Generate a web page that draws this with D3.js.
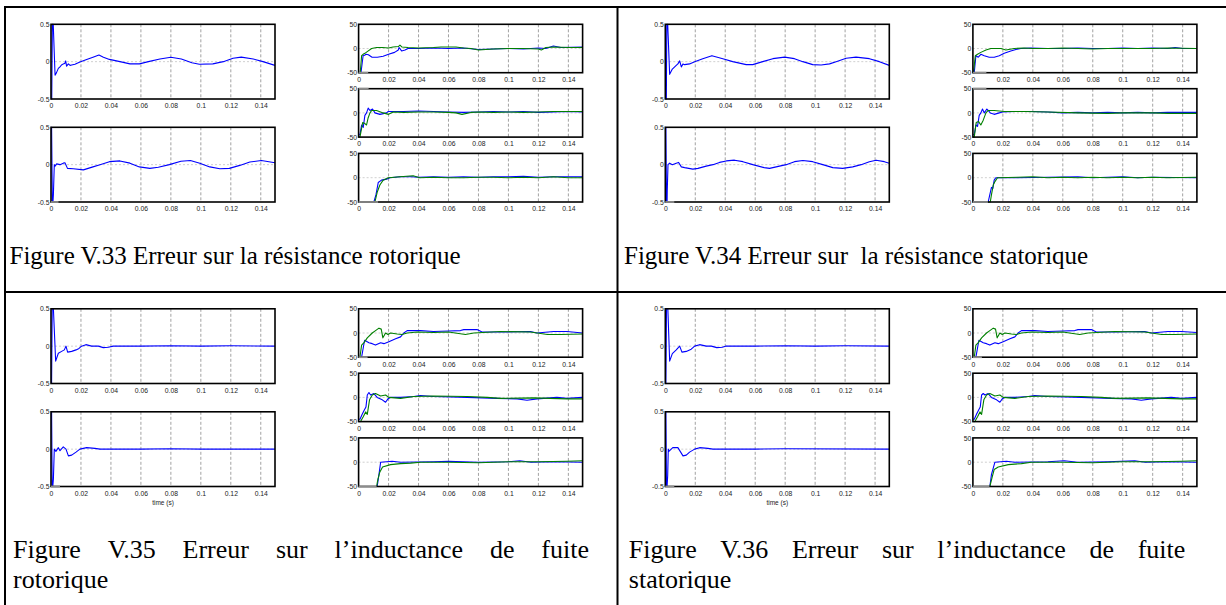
<!DOCTYPE html>
<html>
<head>
<meta charset="utf-8">
<script src="https://cdn.jsdelivr.net/npm/d3@7"></script>
<style>
  body { margin: 0; background: #fff; }
  svg { display: block; }
</style>
</head>
<body>
<script>
// tick values shared by all panels
const xTicks = [0, 0.02, 0.04, 0.06, 0.08, 0.1, 0.12, 0.14];
const leftYTicks = [-0.5, 0, 0.5];
const rightYTicks = [-50, 0, 50];

// ---- Figure V.33 (rotor resistance) ----
const v33L1 = [[0,-0.5],[0.0005,-0.5],[0.0009,0.5],[0.0015,0.5],[0.0027,-0.18],[0.0036,-0.15],[0.0049,-0.09],[0.006,-0.07],[0.007,-0.045],[0.0082,-0.03],[0.0093,-0.02],[0.0098,0.01],[0.0104,-0.06],[0.0116,-0.03],[0.0127,-0.05],[0.0138,-0.045],[0.016,-0.035],[0.0193,-0.005],[0.0238,0.03],[0.028,0.06],[0.032,0.09],[0.035,0.06],[0.039,0.03],[0.046,0],[0.0527,-0.03],[0.059,-0.03],[0.065,0],[0.0727,0.035],[0.08,0.06],[0.087,0.035],[0.094,-0.015],[0.099,-0.035],[0.108,-0.03],[0.115,0],[0.1215,0.045],[0.127,0.06],[0.135,0.035],[0.1415,0],[0.1495,-0.05]];
const v33L2 = [[0,0.5],[0.0004,0.5],[0.0009,-0.5],[0.0013,-0.5],[0.0016,-0.4],[0.0022,0],[0.0027,-0.02],[0.0038,0.01],[0.006,0],[0.0082,0.02],[0.0093,0.025],[0.011,-0.05],[0.0149,-0.055],[0.0216,-0.07],[0.028,-0.03],[0.0327,0],[0.039,0.04],[0.046,0.05],[0.0527,0.02],[0.059,-0.03],[0.066,-0.05],[0.0716,-0.035],[0.079,0],[0.0867,0.045],[0.093,0.055],[0.0993,0.02],[0.106,-0.03],[0.1127,-0.055],[0.119,-0.05],[0.126,-0.01],[0.1327,0.035],[0.1404,0.055],[0.1495,0.025]];
const v33R1Blue = [[0,-50],[0.0016,-50],[0.003,-15],[0.004,-14],[0.005,-12],[0.0065,-13],[0.009,-18],[0.0125,-18],[0.0164,-16],[0.02,-12],[0.024,-8],[0.0265,-3],[0.027,2],[0.0287,-5],[0.031,-3],[0.033,0],[0.04,0],[0.05,1],[0.06,0],[0.07,1],[0.08,-2],[0.09,-1],[0.1,0],[0.11,-1],[0.12,1],[0.125,0],[0.13,5],[0.135,2],[0.1495,3]];
const v33R1Green = [[0,-50],[0.0011,-50],[0.002,-15],[0.003,-12],[0.0042,-10],[0.006,-6],[0.0087,0],[0.012,2],[0.016,2],[0.02,1],[0.023,3],[0.0265,4],[0.0276,7],[0.029,3],[0.033,2],[0.04,1],[0.05,2],[0.055,3],[0.06,3],[0.065,3],[0.07,1],[0.075,0],[0.08,-3],[0.085,-2],[0.09,-1],[0.1,0],[0.11,0],[0.12,-1],[0.122,-3],[0.125,2],[0.13,3],[0.14,2],[0.1495,2]];
const v33R2Blue = [[0,-45],[0.0009,-45],[0.002,-25],[0.0031,-30],[0.0042,-5],[0.0053,0],[0.0064,10],[0.0076,5],[0.0093,8],[0.0109,0],[0.0142,-3],[0.0187,0],[0.0198,3],[0.03,3],[0.04,4],[0.05,3],[0.06,2],[0.07,1],[0.08,2],[0.09,3],[0.1,2],[0.11,3],[0.12,1],[0.13,2],[0.14,3],[0.1495,2]];
const v33R2Green = [[0,-50],[0.0009,-50],[0.0027,-20],[0.0042,-22],[0.0053,-25],[0.0064,-10],[0.0076,0],[0.0087,5],[0.012,5],[0.0164,0],[0.02,-3],[0.0231,2],[0.03,1],[0.04,2],[0.05,2],[0.06,1],[0.065,0],[0.069,-3],[0.075,1],[0.08,2],[0.09,1],[0.1,2],[0.11,1],[0.12,2],[0.13,3],[0.14,3],[0.1495,3]];
const v33R3Blue = [[0,-50],[0.0102,-50],[0.0116,-35],[0.0131,-10],[0.0153,-5],[0.0187,-3],[0.0209,0],[0.0276,2],[0.035,2],[0.04,1],[0.05,2],[0.06,1],[0.07,2],[0.08,1],[0.09,2],[0.1,2],[0.11,3],[0.12,1],[0.13,2],[0.1495,2]];
const v33R3Green = [[0,-50],[0.0109,-50],[0.0124,-30],[0.0142,-15],[0.0164,-5],[0.0198,0],[0.0276,2],[0.0364,4],[0.0409,0],[0.05,1],[0.06,0],[0.07,0],[0.08,1],[0.09,1],[0.1,0],[0.11,1],[0.12,0],[0.13,2],[0.14,0],[0.1495,0]];
// saturated (off-scale) stretch shown in grey on the frame: [end time, level] per panel L1, L2, R1, R2, R3
const v33Sat = [null, [0.005,-0.5], [0.0064,-50], [0.0067,50], [0.013,-50]];

// ---- Figure V.34 (stator resistance) ----
const v34L1 = [[0,-0.5],[0.0007,-0.5],[0.001,0.5],[0.0016,0.5],[0.0029,-0.17],[0.0047,-0.1],[0.0073,-0.05],[0.0084,-0.03],[0.0096,0.01],[0.0107,-0.07],[0.0118,-0.03],[0.0129,-0.04],[0.0162,-0.03],[0.0196,0],[0.025,0.04],[0.0311,0.08],[0.0384,0.04],[0.045,0],[0.054,-0.04],[0.0584,-0.04],[0.065,0],[0.0718,0.04],[0.0796,0.06],[0.0862,0.04],[0.0918,0],[0.0984,-0.04],[0.104,-0.045],[0.1096,-0.03],[0.114,0],[0.1207,0.045],[0.1273,0.06],[0.1362,0.04],[0.1429,0],[0.1495,-0.05]];
const v34L2 = [[0,0.5],[0.0004,0.5],[0.0008,-0.5],[0.0012,-0.5],[0.0013,-0.35],[0.0018,0],[0.0029,0.02],[0.0047,0],[0.0073,0.02],[0.0089,0.03],[0.0107,-0.03],[0.0129,-0.04],[0.0184,-0.06],[0.0218,-0.05],[0.0273,-0.02],[0.0318,0],[0.0362,0.03],[0.0407,0.05],[0.0462,0.06],[0.0518,0.04],[0.0584,0],[0.066,-0.04],[0.0696,-0.05],[0.0762,-0.02],[0.0807,0],[0.0862,0.04],[0.0918,0.055],[0.0984,0.04],[0.1051,0],[0.1118,-0.04],[0.1184,-0.05],[0.1251,-0.03],[0.1307,0],[0.1362,0.04],[0.1407,0.06],[0.1462,0.04],[0.1495,0.02]];
const v34R1Blue = [[0,-50],[0.0009,-50],[0.002,-15],[0.0036,-18],[0.0053,-12],[0.0076,-15],[0.0109,-18],[0.0142,-18],[0.0176,-15],[0.0209,-10],[0.0253,-5],[0.0287,-2],[0.032,0],[0.0387,1],[0.05,0],[0.06,0],[0.07,1],[0.08,0],[0.09,0],[0.1,1],[0.11,0],[0.12,1],[0.13,0],[0.135,2],[0.14,0],[0.1495,0]];
const v34R1Green = [[0,-50],[0.0004,-50],[0.0016,-15],[0.0031,-12],[0.0053,-8],[0.0087,-3],[0.012,0],[0.0187,0],[0.022,-3],[0.0276,0],[0.0342,1],[0.04,0],[0.05,0],[0.06,1],[0.07,0],[0.08,-1],[0.09,0],[0.1,0],[0.11,0],[0.12,0],[0.13,1],[0.1495,0]];
const v34R2Blue = [[0,-45],[0.0009,-45],[0.002,-25],[0.0031,-28],[0.0042,-5],[0.0053,0],[0.0064,8],[0.0076,0],[0.0093,8],[0.0102,5],[0.0116,0],[0.0142,-3],[0.0176,0],[0.0198,2],[0.0276,3],[0.0387,3],[0.05,2],[0.06,0],[0.07,1],[0.08,0],[0.09,1],[0.1,0],[0.11,1],[0.12,0],[0.13,1],[0.1495,1]];
const v34R2Green = [[0,-50],[0.0009,-50],[0.0022,-20],[0.0038,-18],[0.0053,-25],[0.0069,-15],[0.0087,0],[0.0102,5],[0.0142,5],[0.0209,3],[0.0342,3],[0.05,2],[0.07,0],[0.09,-1],[0.1,0],[0.11,0],[0.12,0],[0.13,-1],[0.1495,-1]];
const v34R3Blue = [[0,-50],[0.0102,-50],[0.0113,-35],[0.0124,-20],[0.0133,-22],[0.0142,-5],[0.0153,0],[0.03,0],[0.05,1],[0.07,2],[0.08,0],[0.1,2],[0.11,0],[0.12,1],[0.1495,0]];
const v34R3Green = [[0,-50],[0.0116,-50],[0.0124,-35],[0.0136,-15],[0.0147,-8],[0.0164,0],[0.03,1],[0.04,2],[0.05,0],[0.06,1],[0.07,0],[0.08,1],[0.09,0],[0.1,1],[0.11,0],[0.12,1],[0.13,0],[0.1495,1]];
const v34Sat = [null, [0.006,-0.5], [0.009,-50], [0.009,50], [0.01,-50]];

// ---- Figure V.35 (rotor leakage inductance) ----
const v35L1 = [[0,-0.5],[0.0004,-0.5],[0.0008,0.5],[0.0016,0.5],[0.0031,-0.2],[0.0049,-0.095],[0.0071,-0.07],[0.0089,-0.05],[0.01,0],[0.0111,-0.08],[0.0138,-0.07],[0.0167,-0.05],[0.0187,-0.03],[0.0204,0],[0.0233,0.02],[0.0271,0],[0.0316,0],[0.0349,-0.02],[0.0382,-0.015],[0.0416,0],[0.06,0],[0.08,0.005],[0.1,0],[0.12,0.005],[0.1495,0]];
const v35L2 = [[0,0.5],[0.0004,0.5],[0.0008,-0.5],[0.0012,-0.5],[0.0016,-0.4],[0.0022,0],[0.0033,-0.03],[0.0049,0.02],[0.006,-0.02],[0.0082,0.03],[0.01,0],[0.0116,-0.09],[0.0138,-0.08],[0.0167,-0.04],[0.0193,0],[0.0238,0.02],[0.0293,0.01],[0.0327,0],[0.06,0],[0.08,0.005],[0.1,0],[0.1495,0]];
const v35R1Blue = [[0,-50],[0.002,-50],[0.004,-15],[0.0069,-20],[0.0091,-22],[0.0113,-25],[0.0147,-20],[0.0169,-22],[0.0202,-18],[0.0247,-12],[0.028,-8],[0.0302,0],[0.0324,5],[0.0413,5],[0.05,3],[0.06,4],[0.068,5],[0.0702,7],[0.079,7],[0.0824,2],[0.095,2],[0.1147,3],[0.119,0],[0.1302,3],[0.1391,3],[0.1495,0]];
const v35R1Green = [[0,-50],[0.0009,-50],[0.002,-25],[0.0036,-20],[0.0058,-10],[0.0091,0],[0.0113,5],[0.0136,10],[0.0151,8],[0.0162,-10],[0.018,0],[0.0196,-3],[0.0213,0],[0.0258,-2],[0.029,-3],[0.0324,0],[0.0391,2],[0.05,1],[0.06,2],[0.0713,-3],[0.0769,0],[0.0947,3],[0.1147,2],[0.126,-3],[0.1347,-3],[0.1495,-2]];
const v35R2Blue = [[0,-45],[0.0009,-45],[0.0024,-35],[0.004,-25],[0.0049,-20],[0.0058,5],[0.0069,10],[0.008,5],[0.0102,8],[0.0124,0],[0.0158,-5],[0.018,-10],[0.0196,-3],[0.0213,0],[0.028,0],[0.0369,2],[0.0413,4],[0.05,2],[0.0724,0],[0.0924,-2],[0.1058,-3],[0.1124,-6],[0.1191,-3],[0.1324,0],[0.1391,-2],[0.1495,0]];
const v35R2Green = [[0,-50],[0.0013,-50],[0.0031,-40],[0.0047,-30],[0.0058,-35],[0.0073,-5],[0.0091,5],[0.0113,8],[0.0147,3],[0.018,5],[0.0202,0],[0.028,-2],[0.0369,2],[0.05,3],[0.0724,2],[0.0858,0],[0.0947,-2],[0.1169,-1],[0.1391,-3],[0.1495,-3]];
const v35R3Blue = [[0,-50],[0.0124,-50],[0.0136,-25],[0.0147,0],[0.0224,2],[0.028,0],[0.05,1],[0.06,2],[0.08,0],[0.1,1],[0.1076,3],[0.115,0],[0.13,1],[0.1495,0]];
const v35R3Green = [[0,-50],[0.012,-50],[0.0129,-35],[0.0142,-20],[0.016,-10],[0.0213,-5],[0.028,-3],[0.0347,-2],[0.0413,0],[0.06,0],[0.08,-1],[0.1,1],[0.12,1],[0.1391,2],[0.1495,3]];
const v35Sat = [null, [0.006,-0.5], [0.006,-50], null, [0.012,-50]];

// ---- Figure V.36 (stator leakage inductance) ----
const v36L1 = [[0,-0.5],[0.0004,-0.5],[0.0008,0.5],[0.0017,0.5],[0.0029,-0.2],[0.0047,-0.1],[0.0073,-0.05],[0.0096,0],[0.0111,-0.08],[0.014,-0.07],[0.0173,-0.04],[0.0196,0],[0.0229,0.02],[0.0273,0],[0.0307,0],[0.0344,-0.02],[0.038,-0.015],[0.0402,0],[0.06,0],[0.08,0.005],[0.1,0],[0.12,0.005],[0.1495,0]];
const v36L2 = [[0,0.5],[0.0004,0.5],[0.0008,-0.5],[0.0012,-0.5],[0.0016,-0.35],[0.002,0],[0.0024,-0.03],[0.005,0.02],[0.0084,0.02],[0.0118,-0.09],[0.014,-0.08],[0.0162,-0.04],[0.0196,0],[0.0229,0.02],[0.0284,0.01],[0.0318,0],[0.06,0],[0.08,0.005],[0.1495,0]];
const v36R1Blue = [[0,-50],[0.002,-50],[0.004,-15],[0.0069,-20],[0.0091,-22],[0.0113,-25],[0.0147,-20],[0.0169,-22],[0.0202,-18],[0.0247,-12],[0.028,-8],[0.0302,0],[0.0324,5],[0.0413,5],[0.05,3],[0.06,4],[0.068,5],[0.0702,7],[0.079,7],[0.0824,2],[0.095,2],[0.1147,3],[0.119,0],[0.1302,3],[0.1391,3],[0.1495,1]];
const v36R1Green = [[0,-50],[0.0009,-50],[0.002,-25],[0.0036,-20],[0.0058,-10],[0.0091,0],[0.0113,5],[0.0136,10],[0.0151,8],[0.0162,-10],[0.018,0],[0.0196,-3],[0.0213,0],[0.0258,-2],[0.029,-3],[0.0324,0],[0.0391,2],[0.05,1],[0.06,2],[0.0713,-3],[0.0769,0],[0.0947,3],[0.1147,2],[0.126,-3],[0.1347,-3],[0.1495,-2]];
const v36R2Blue = [[0,-45],[0.0009,-45],[0.0024,-35],[0.004,-25],[0.0049,-20],[0.0058,5],[0.0069,8],[0.008,5],[0.0102,8],[0.0124,0],[0.0158,-5],[0.018,-10],[0.0196,-3],[0.0213,0],[0.028,0],[0.0369,2],[0.0413,4],[0.05,2],[0.0724,0],[0.0924,-2],[0.1058,-3],[0.1124,-6],[0.1191,-3],[0.1324,0],[0.1391,-2],[0.1495,0]];
const v36R2Green = [[0,-50],[0.0013,-50],[0.0031,-40],[0.0047,-30],[0.0058,-35],[0.0073,-5],[0.0091,5],[0.0113,8],[0.0147,3],[0.018,5],[0.0202,0],[0.028,-2],[0.0369,2],[0.05,3],[0.0724,2],[0.0858,0],[0.0947,-2],[0.1169,-1],[0.1391,-3],[0.1495,-3]];
const v36R3Blue = [[0,-50],[0.0113,-50],[0.0124,-25],[0.0147,0],[0.0224,2],[0.028,0],[0.05,1],[0.061,3],[0.07,0],[0.09,1],[0.108,3],[0.115,0],[0.13,1],[0.1495,0]];
const v36R3Green = [[0,-50],[0.0113,-50],[0.0129,-30],[0.0142,-15],[0.0169,-10],[0.0236,-5],[0.0324,-3],[0.039,0],[0.06,0],[0.08,-1],[0.1,1],[0.12,1],[0.1391,2],[0.1495,3]];
const v36Sat = [null, [0.006,-0.5], [0.006,-50], null, [0.011,-50]];

// captions, one list of lines per cell (a 2-line caption is justified on its first line)
const captions = [
    ["Figure V.33 Erreur sur la résistance rotorique"],
    ["Figure V.34 Erreur sur  la résistance statorique"],
    ["Figure V.35 Erreur sur l\u2019inductance de fuite", "rotorique"],
    ["Figure V.36 Erreur sur l\u2019inductance de fuite", "statorique"]
];

const cellData = [
    { left: [v33L1, v33L2], right: [[v33R1Blue, v33R1Green], [v33R2Blue, v33R2Green], [v33R3Blue, v33R3Green]], sat: v33Sat },
    { left: [v34L1, v34L2], right: [[v34R1Blue, v34R1Green], [v34R2Blue, v34R2Green], [v34R3Blue, v34R3Green]], sat: v34Sat },
    { left: [v35L1, v35L2], right: [[v35R1Blue, v35R1Green], [v35R2Blue, v35R2Green], [v35R3Blue, v35R3Green]], sat: v35Sat, timeLabel: true },
    { left: [v36L1, v36L2], right: [[v36R1Blue, v36R1Green], [v36R2Blue, v36R2Green], [v36R3Blue, v36R3Green]], sat: v36Sat, timeLabel: true }
];

// layout
const width = 1226, height = 605;
const xMax = 0.1495;
const seriesColors = ["#0000ff", "#008000"];
const cellOrigins = [[0, 0], [614.3, 0], [0, 284.5], [614.3, 284.5]];
const leftBoxes  = [{ x: 51, y: 24.3, w: 224, h: 74.7 }, { x: 51, y: 127.3, w: 224, h: 74.7 }];
const rightBoxes = [{ x: 358.6, y: 24.3, w: 224, h: 48.4 }, { x: 358.6, y: 88.7, w: 224, h: 48.4 },
                    { x: 358.6, y: 153.4, w: 224, h: 48.6 }];
// caption placement per cell: font size, left x, right x (justified line), first baseline, line pitch
const captionBoxes = [
    { size: 25, x0: 9.5, x1: 598, y: 264, pitch: 30 },
    { size: 25, x0: 9.7, x1: 598, y: 264, pitch: 30 },
    { size: 26, x0: 13, x1: 589, y: 273.5, pitch: 29.5 },
    { size: 26, x0: 14.5, x1: 571, y: 273.5, pitch: 29.5 }
];

const svg = d3.select("body").append("svg")
    .attr("width", width)
    .attr("height", height);

let clipId = 0;

// one MATLAB-like axes panel
function drawPanel(g, box, yTicks, series, sat, withTime) {
    const x = d3.scaleLinear().domain([0, xMax]).range([box.x, box.x + box.w]);
    const y = d3.scaleLinear().domain([yTicks[0], yTicks[2]]).range([box.y + box.h, box.y]);

    // grid
    g.append("g").selectAll("line")
        .data(xTicks.slice(1))
        .join("line")
        .attr("x1", d => x(d)).attr("x2", d => x(d))
        .attr("y1", box.y).attr("y2", box.y + box.h)
        .attr("stroke", "#8a8a8a")
        .attr("stroke-width", 0.8)
        .attr("stroke-dasharray", "3,2");
    g.append("line")
        .attr("x1", box.x).attr("x2", box.x + box.w)
        .attr("y1", y(0)).attr("y2", y(0))
        .attr("stroke", "#c4c4c4")
        .attr("stroke-width", 0.8)
        .attr("stroke-dasharray", "2,2");

    // curves, clipped to the box
    const id = "clip" + (clipId++);
    g.append("clipPath").attr("id", id)
        .append("rect")
        .attr("x", box.x).attr("y", box.y - 1)
        .attr("width", box.w).attr("height", box.h + 2);
    const line = d3.line().x(d => x(d[0])).y(d => y(d[1]));
    const curves = g.append("g").attr("clip-path", "url(#" + id + ")");
    series.forEach((s, i) => {
        curves.append("path")
            .attr("d", line(s))
            .attr("fill", "none")
            .attr("stroke", seriesColors[i])
            .attr("stroke-width", 1.1)
            .attr("stroke-linejoin", "round");
    });

    // frame
    g.append("rect")
        .attr("x", box.x).attr("y", box.y)
        .attr("width", box.w).attr("height", box.h)
        .attr("fill", "none")
        .attr("stroke", "#000")
        .attr("stroke-width", 1.6);

    // off-scale stretch drawn on the frame
    if (sat) {
        g.append("line")
            .attr("x1", x(0)).attr("x2", x(sat[0]))
            .attr("y1", y(sat[1])).attr("y2", y(sat[1]))
            .attr("stroke", "#8c8c8c")
            .attr("stroke-width", 1.8);
    }

    // tick labels
    const xAxis = g.append("g")
        .attr("transform", `translate(0,${box.y + box.h})`)
        .call(d3.axisBottom(x).tickValues(xTicks).tickSize(0).tickPadding(4.5).tickFormat(d => String(d)));
    const yAxis = g.append("g")
        .attr("transform", `translate(${box.x},0)`)
        .call(d3.axisLeft(y).tickValues(yTicks).tickSize(0).tickPadding(1.5).tickFormat(d => String(d)));
    [xAxis, yAxis].forEach(a => {
        a.select(".domain").remove();
        a.selectAll("text")
            .attr("fill", "#222")
            .style("font-family", "'Liberation Sans', Arial, sans-serif")
            .style("font-size", "6.8px");
    });
    yAxis.lower();

    if (withTime) {
        g.append("text")
            .attr("x", box.x + box.w / 2)
            .attr("y", box.y + box.h + 18)
            .attr("text-anchor", "middle")
            .attr("fill", "#222")
            .style("font-family", "'Liberation Sans', Arial, sans-serif")
            .style("font-size", "6.5px")
            .text("time (s)");
    }
}

// caption text, first line justified when the caption wraps
function drawCaption(g, lines, cb) {
    const text = g.append("text")
        .style("font-family", "'Liberation Serif', 'Times New Roman', serif")
        .style("font-size", cb.size + "px")
        .style("white-space", "pre")
        .attr("fill", "#000");
    lines.forEach((ln, li) => {
        const yy = cb.y + li * cb.pitch;
        if (lines.length > 1 && li < lines.length - 1) {
            const words = ln.split(" ");
            const widths = words.map(w => {
                const t = text.append("tspan").text(w);
                const wd = t.node().getComputedTextLength();
                t.remove();
                return wd;
            });
            const gap = (cb.x1 - cb.x0 - d3.sum(widths)) / (words.length - 1);
            let xx = cb.x0;
            words.forEach((w, i) => {
                text.append("tspan").attr("x", xx).attr("y", yy).text(w);
                xx += widths[i] + gap;
            });
        } else {
            text.append("tspan").attr("x", cb.x0).attr("y", yy).text(ln);
        }
    });
}

cellData.forEach((cell, ci) => {
    const [ox, oy] = cellOrigins[ci];
    const g = svg.append("g").attr("transform", `translate(${ox},${oy})`);
    cell.left.forEach((s, i) => drawPanel(g, leftBoxes[i], leftYTicks, [s], cell.sat[i], cell.timeLabel && i === 1));
    cell.right.forEach((s, i) => drawPanel(g, rightBoxes[i], rightYTicks, s, cell.sat[i + 2], false));
    drawCaption(g, captions[ci], captionBoxes[ci]);
});

// table rules
const rules = svg.append("g").attr("stroke", "#000").attr("stroke-width", 2);
rules.append("line").attr("x1", 5).attr("x2", 5).attr("y1", 6).attr("y2", height);
rules.append("line").attr("x1", 617.5).attr("x2", 617.5).attr("y1", 6).attr("y2", height);
rules.append("line").attr("x1", 4).attr("x2", width).attr("y1", 7).attr("y2", 7);
rules.append("line").attr("x1", 4).attr("x2", width).attr("y1", 292).attr("y2", 292);
</script>
</body>
</html>
